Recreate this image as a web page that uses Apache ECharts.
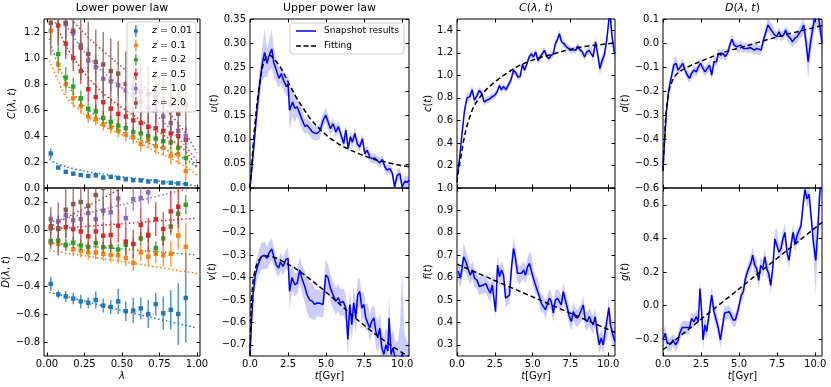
<!DOCTYPE html>
<html>
<head>
<meta charset="utf-8">
<script src="https://cdn.jsdelivr.net/npm/echarts@6/dist/echarts.min.js"></script>
<style>
  html, body { margin: 0; padding: 0; background: #fff; }
  #chart { width: 831px; height: 387px; }
</style>
</head>
<body>
<div id="chart"></div>
<script>
// ---------- data ----------
var LAM = [0.025,0.075,0.125,0.175,0.225,0.275,0.325,0.375,0.425,0.475,0.525,0.575,0.625,0.675,0.725,0.775,0.825,0.875,0.925];
var zNames = ['z = 0.01','z = 0.1','z = 0.2','z = 0.5','z = 1.0','z = 2.0'];
var zColors = ['#1f77b4','#ff7f0e','#2ca02c','#d62728','#9467bd','#8c564b'];

// lower power law, C(lambda,t), one row per z
var lowerC = [
  [0.265,0.157,0.124,0.11,0.10,0.093,0.098,0.08,0.085,0.077,0.067,0.06,0.058,0.05,0.052,0.042,0.04,0.035,0.03],
  [1.21,0.95,0.80,0.69,0.63,0.55,0.53,0.49,0.47,0.44,0.41,0.39,0.34,0.37,0.32,0.31,0.25,0.26,0.13],
  [1.40,1.03,0.85,0.78,0.69,0.61,0.59,0.54,0.51,0.48,0.46,0.43,0.42,0.40,0.38,0.36,0.35,0.31,0.23],
  [1.45,1.25,1.11,1.00,0.90,0.76,0.70,0.66,0.61,0.57,0.55,0.52,0.50,0.47,0.46,0.44,0.42,0.40,0.37],
  [1.50,1.42,1.26,1.19,1.10,0.98,0.93,0.84,0.82,0.79,0.75,0.72,0.66,0.62,0.60,0.55,0.50,0.44,0.40],
  [1.27,1.35,1.27,1.21,1.08,1.03,0.97,0.95,0.90,0.88,0.80,0.77,0.74,0.72,0.70,0.66,0.64,0.57,0.64]
];
var lowerCErr = [
  [0.04,0.012,0.012,0.01,0.01,0.01,0.02,0.01,0.01,0.01,0.01,0.01,0.01,0.01,0.01,0.01,0.01,0.01,0.015],
  [0.08,0.07,0.07,0.07,0.06,0.05,0.05,0.05,0.05,0.05,0.05,0.05,0.06,0.06,0.06,0.06,0.07,0.08,0.08],
  [0.10,0.10,0.08,0.07,0.06,0.05,0.05,0.05,0.05,0.05,0.04,0.04,0.05,0.05,0.05,0.05,0.05,0.05,0.05],
  [0.15,0.12,0.12,0.10,0.10,0.10,0.10,0.10,0.08,0.08,0.08,0.08,0.08,0.08,0.08,0.08,0.09,0.10,0.10],
  [0.15,0.15,0.10,0.10,0.10,0.10,0.10,0.08,0.08,0.08,0.08,0.08,0.08,0.08,0.07,0.07,0.07,0.07,0.07],
  [0.25,0.25,0.25,0.25,0.25,0.25,0.25,0.25,0.25,0.25,0.25,0.22,0.22,0.22,0.20,0.20,0.20,0.20,0.20]
];
var lowerCFit = [
  [[0.015,0.22],[0.05,0.195],[0.13,0.162],[0.25,0.13],[0.35,0.11],[0.46,0.092],[0.575,0.077],[0.7,0.06],[0.8,0.046],[0.9,0.032],[1.0,0.015]],
  [[0.015,0.98],[0.072,0.83],[0.128,0.70],[0.24,0.575],[0.35,0.49],[0.46,0.43],[0.575,0.37],[0.69,0.30],[0.8,0.24],[0.91,0.175],[1.0,0.10]],
  [[0.015,1.15],[0.038,1.06],[0.128,0.81],[0.24,0.64],[0.35,0.535],[0.46,0.46],[0.575,0.39],[0.69,0.34],[0.8,0.29],[0.91,0.23],[1.0,0.16]],
  [[0.015,1.42],[0.049,1.295],[0.128,1.09],[0.24,0.90],[0.35,0.755],[0.46,0.65],[0.575,0.56],[0.69,0.47],[0.8,0.39],[0.91,0.30],[1.0,0.16]],
  [[0.06,1.42],[0.105,1.295],[0.24,1.06],[0.35,0.92],[0.46,0.81],[0.575,0.70],[0.69,0.60],[0.8,0.48],[0.91,0.34],[1.0,0.21]],
  [[0.1,1.36],[0.15,1.31],[0.3,1.13],[0.45,0.98],[0.6,0.83],[0.75,0.66],[0.9,0.46],[1.0,0.27]]
];

// lower power law, D(lambda,t)
var lowerD = [
  [-0.385,-0.46,-0.475,-0.49,-0.51,-0.52,-0.50,-0.54,-0.55,-0.51,-0.58,-0.575,-0.56,-0.60,-0.53,-0.595,-0.57,-0.60,-0.485],
  [-0.09,-0.10,-0.11,-0.137,-0.147,-0.16,-0.16,-0.17,-0.178,-0.18,-0.20,-0.235,-0.16,-0.19,-0.17,-0.18,-0.17,-0.04,-0.12],
  [-0.08,-0.075,-0.105,-0.09,-0.11,-0.12,-0.093,-0.123,-0.12,-0.14,-0.105,-0.10,-0.06,-0.04,-0.13,-0.06,0.025,0.116,0.18],
  [0.026,0.012,0.02,0.007,-0.01,-0.045,-0.01,-0.04,-0.036,0.03,-0.083,-0.10,0.036,-0.035,0.078,0.007,0.133,0.166,null],
  [0.078,0.062,0.107,0.07,0.078,0.12,0.078,0.138,0.126,0.225,0.085,0.22,0.228,0.268,null,null,null,null,null],
  [0.012,0.007,0.145,0.185,0.20,0.173,0.25,0.30,0.33,0.36,null,null,null,null,null,null,null,null,null]
];
var lowerDErr = [
  [0.05,0.03,0.04,0.04,0.05,0.04,0.06,0.05,0.05,0.09,0.07,0.09,0.08,0.10,0.08,0.12,0.14,0.22,0.32],
  [0.03,0.04,0.04,0.05,0.05,0.05,0.05,0.05,0.05,0.06,0.06,0.06,0.06,0.07,0.07,0.08,0.09,0.10,0.17],
  [0.03,0.04,0.04,0.04,0.04,0.04,0.04,0.04,0.04,0.04,0.04,0.05,0.05,0.05,0.05,0.05,0.06,0.07,0.07],
  [0.06,0.07,0.08,0.08,0.08,0.10,0.10,0.10,0.10,0.12,0.10,0.10,0.12,0.12,0.12,0.12,0.15,0.15,0.20],
  [0.03,0.04,0.05,0.06,0.06,0.06,0.06,0.07,0.07,0.08,0.08,0.08,0.08,0.08,0.08,0.08,0.08,0.08,0.08],
  [0.15,0.19,0.20,0.20,0.20,0.20,0.20,0.20,0.20,0.20,0.20,0.20,0.20,0.20,0.20,0.20,0.20,0.20,0.20]
];
var lowerDFit = [
  [[0.015,-0.444],[0.5,-0.575],[1.0,-0.70]],
  [[0.015,-0.147],[0.5,-0.225],[1.0,-0.31]],
  [[0.015,-0.093],[0.5,-0.135],[1.0,-0.178]],
  [[0.015,0.007],[0.5,0.045],[1.0,0.085]],
  [[0.015,0.055],[0.5,0.18],[1.0,0.31]],
  [[0.015,0.02],[0.5,0.30],[1.0,0.58]]
];

// upper power law and the time fits: [t, value, half band width]
var uSnap = [[0,0.0,0.005],[0.15,0.05,0.015],[0.42,0.147,0.025],[0.64,0.217,0.03],[0.81,0.258,0.035],[0.96,0.281,0.05],[1.12,0.258,0.03],[1.23,0.272,0.03],[1.43,0.288,0.04],[1.56,0.26,0.03],[1.73,0.244,0.025],[1.9,0.227,0.02],[2.06,0.237,0.02],[2.2,0.223,0.02],[2.4,0.21,0.02],[2.5,0.216,0.025],[2.6,0.161,0.04],[2.8,0.178,0.03],[2.94,0.165,0.03],[3.1,0.168,0.02],[3.27,0.154,0.02],[3.44,0.14,0.02],[3.6,0.128,0.015],[3.75,0.13,0.015],[3.93,0.123,0.015],[4.1,0.116,0.015],[4.25,0.114,0.015],[4.4,0.113,0.015],[4.6,0.118,0.015],[4.8,0.14,0.015],[4.98,0.151,0.015],[5.13,0.137,0.015],[5.28,0.123,0.012],[5.46,0.133,0.012],[5.64,0.116,0.012],[5.81,0.127,0.012],[5.99,0.109,0.012],[6.16,0.092,0.012],[6.3,0.12,0.012],[6.45,0.082,0.012],[6.6,0.106,0.012],[6.73,0.095,0.012],[6.89,0.113,0.012],[7.04,0.092,0.012],[7.2,0.085,0.01],[7.39,0.102,0.01],[7.54,0.071,0.01],[7.7,0.078,0.01],[7.87,0.064,0.01],[8.03,0.061,0.01],[8.2,0.062,0.01],[8.36,0.057,0.01],[8.53,0.052,0.01],[8.7,0.059,0.01],[8.86,0.044,0.01],[9.0,0.037,0.01],[9.19,0.04,0.01],[9.36,0.03,0.01],[9.5,0.002,0.012],[9.67,0.026,0.012],[9.85,0.03,0.012],[10.0,0.002,0.012],[10.18,0.014,0.012],[10.33,0.012,0.012],[10.45,0.016,0.012]];
var uFit = [[0,0],[0.1,0.04],[0.2,0.085],[0.35,0.14],[0.5,0.185],[0.7,0.23],[0.9,0.26],[1.1,0.273],[1.3,0.275],[1.5,0.27],[2.0,0.25],[2.5,0.22],[3.0,0.19],[3.5,0.165],[4.0,0.142],[4.5,0.125],[5.0,0.11],[5.5,0.098],[6.0,0.088],[7.0,0.073],[8.0,0.061],[9.0,0.053],[10.0,0.046],[10.45,0.044]];

var vSnap = [[0,-0.745,0.01],[0.09,-0.61,0.03],[0.2,-0.477,0.04],[0.35,-0.388,0.05],[0.53,-0.343,0.05],[0.75,-0.306,0.06],[0.96,-0.30,0.06],[1.12,-0.314,0.05],[1.25,-0.29,0.05],[1.43,-0.272,0.05],[1.56,-0.306,0.04],[1.73,-0.343,0.04],[1.88,-0.358,0.04],[2.0,-0.33,0.04],[2.17,-0.35,0.04],[2.35,-0.32,0.04],[2.5,-0.314,0.05],[2.6,-0.462,0.08],[2.76,-0.40,0.06],[2.94,-0.432,0.05],[3.1,-0.425,0.05],[3.27,-0.366,0.06],[3.44,-0.41,0.06],[3.6,-0.44,0.07],[3.75,-0.477,0.08],[3.93,-0.50,0.08],[4.1,-0.506,0.08],[4.25,-0.52,0.07],[4.4,-0.513,0.06],[4.6,-0.515,0.06],[4.8,-0.52,0.06],[4.98,-0.388,0.07],[5.13,-0.40,0.06],[5.28,-0.447,0.06],[5.46,-0.477,0.06],[5.64,-0.506,0.06],[5.8,-0.49,0.06],[5.94,-0.513,0.06],[6.12,-0.506,0.06],[6.3,-0.536,0.06],[6.43,-0.676,0.08],[6.56,-0.52,0.07],[6.69,-0.61,0.07],[6.82,-0.513,0.07],[6.95,-0.58,0.07],[7.08,-0.477,0.07],[7.21,-0.462,0.06],[7.35,-0.536,0.06],[7.48,-0.52,0.06],[7.61,-0.58,0.06],[7.74,-0.573,0.06],[7.87,-0.625,0.06],[8.0,-0.595,0.06],[8.14,-0.58,0.06],[8.27,-0.64,0.07],[8.4,-0.67,0.07],[8.53,-0.625,0.07],[8.66,-0.713,0.07],[8.8,-0.743,0.08],[8.93,-0.70,0.08],[9.06,-0.728,0.08],[9.14,-0.58,0.10],[9.27,-0.743,0.08],[9.4,-0.713,0.08],[9.53,-0.76,0.08],[9.7,-0.79,0.10],[9.85,-0.77,0.15],[10.0,-0.74,0.36],[10.15,-0.80,0.15],[10.3,-0.78,0.10],[10.45,-0.80,0.10]];
var vFit = [[0,-0.75],[0.05,-0.6],[0.1,-0.5],[0.2,-0.42],[0.3,-0.375],[0.45,-0.34],[0.6,-0.32],[0.8,-0.307],[1.0,-0.303],[1.3,-0.305],[1.6,-0.31],[2.0,-0.322],[3.0,-0.36],[4.0,-0.41],[5.0,-0.465],[6.0,-0.525],[7.0,-0.585],[8.0,-0.64],[9.0,-0.69],[10.0,-0.735],[10.45,-0.752]];

var cSnap = [[0,0.098,0.01],[0.18,0.275,0.02],[0.33,0.48,0.02],[0.5,0.69,0.03],[0.66,0.80,0.04],[0.84,0.81,0.04],[1.0,0.873,0.04],[1.15,0.78,0.03],[1.32,0.82,0.03],[1.48,0.867,0.03],[1.64,0.837,0.03],[1.8,0.764,0.03],[1.98,0.78,0.03],[2.15,0.79,0.03],[2.31,0.81,0.03],[2.47,0.82,0.03],[2.64,0.85,0.03],[2.8,0.91,0.03],[2.94,0.873,0.03],[3.08,0.90,0.03],[3.24,0.873,0.03],[3.38,0.91,0.03],[3.56,0.956,0.03],[3.74,1.045,0.03],[3.9,1.02,0.03],[4.02,0.985,0.03],[4.18,0.99,0.03],[4.33,1.10,0.03],[4.46,1.045,0.03],[4.62,1.10,0.03],[4.77,1.163,0.03],[4.92,1.19,0.03],[5.05,1.163,0.03],[5.2,1.207,0.03],[5.36,1.13,0.03],[5.5,1.163,0.03],[5.64,1.19,0.03],[5.78,1.222,0.03],[5.93,1.17,0.03],[6.08,1.148,0.03],[6.22,1.178,0.03],[6.37,1.19,0.03],[6.5,1.28,0.03],[6.64,1.317,0.03],[6.77,1.37,0.04],[6.92,1.296,0.03],[7.08,1.28,0.03],[7.25,1.25,0.03],[7.4,1.237,0.03],[7.56,1.222,0.03],[7.7,1.228,0.03],[7.85,1.222,0.03],[7.98,1.26,0.03],[8.13,1.228,0.03],[8.29,1.207,0.03],[8.44,1.163,0.03],[8.57,1.207,0.03],[8.73,1.222,0.03],[8.86,1.228,0.03],[9.0,1.163,0.04],[9.16,1.296,0.04],[9.3,1.19,0.05],[9.45,1.06,0.06],[9.6,1.133,0.05],[9.74,1.178,0.05],[9.9,1.31,0.06],[10.02,1.46,0.07],[10.1,1.58,0.08],[10.25,1.35,0.06],[10.4,1.207,0.05],[10.46,1.19,0.05]];
var cFit = [[0,0.05],[0.1,0.16],[0.22,0.245],[0.44,0.42],[0.6,0.52],[0.77,0.60],[1.1,0.72],[1.54,0.81],[1.98,0.88],[2.64,0.956],[3.3,1.02],[4.18,1.09],[5.27,1.148],[6.37,1.19],[7.47,1.23],[8.57,1.258],[9.67,1.275],[10.46,1.29]];

var fSnap = [[0.07,0.629,0.04],[0.22,0.597,0.04],[0.33,0.64,0.05],[0.44,0.693,0.06],[0.59,0.67,0.05],[0.73,0.64,0.05],[0.88,0.611,0.04],[1.03,0.634,0.04],[1.16,0.597,0.04],[1.32,0.589,0.04],[1.47,0.56,0.04],[1.6,0.567,0.04],[1.76,0.567,0.04],[1.91,0.574,0.04],[2.04,0.552,0.04],[2.2,0.53,0.04],[2.33,0.567,0.04],[2.46,0.574,0.04],[2.55,0.448,0.03],[2.68,0.656,0.05],[2.81,0.604,0.04],[2.94,0.634,0.04],[3.08,0.611,0.04],[3.21,0.508,0.04],[3.34,0.515,0.04],[3.47,0.522,0.04],[3.6,0.641,0.05],[3.74,0.73,0.05],[3.87,0.686,0.05],[4.0,0.619,0.04],[4.13,0.611,0.04],[4.26,0.619,0.04],[4.4,0.634,0.04],[4.53,0.611,0.04],[4.66,0.648,0.04],[4.79,0.663,0.05],[4.92,0.656,0.05],[5.05,0.597,0.04],[5.19,0.567,0.04],[5.32,0.56,0.04],[5.45,0.515,0.04],[5.58,0.485,0.04],[5.71,0.485,0.04],[5.85,0.456,0.04],[5.98,0.485,0.04],[6.11,0.508,0.04],[6.24,0.493,0.04],[6.37,0.441,0.04],[6.5,0.50,0.04],[6.64,0.508,0.04],[6.77,0.50,0.04],[6.9,0.478,0.04],[7.03,0.537,0.04],[7.16,0.50,0.04],[7.3,0.463,0.04],[7.43,0.426,0.04],[7.56,0.404,0.04],[7.69,0.448,0.04],[7.82,0.426,0.04],[7.96,0.419,0.04],[8.09,0.434,0.04],[8.22,0.441,0.04],[8.35,0.478,0.04],[8.48,0.411,0.04],[8.62,0.404,0.04],[8.75,0.426,0.04],[8.88,0.404,0.04],[9.01,0.389,0.04],[9.14,0.426,0.04],[9.27,0.359,0.04],[9.41,0.30,0.04],[9.54,0.33,0.04],[9.67,0.30,0.04],[9.8,0.359,0.04],[9.93,0.359,0.04],[10.04,0.466,0.05],[10.15,0.389,0.05],[10.28,0.352,0.05],[10.44,0.315,0.05]];
var fFit = [[0,0.66],[5.27,0.506],[10.46,0.355]];

var dSnap = [[0,-0.513,0.01],[0.11,-0.40,0.02],[0.22,-0.29,0.02],[0.375,-0.195,0.02],[0.55,-0.14,0.02],[0.71,-0.09,0.03],[0.86,-0.084,0.03],[1.0,-0.112,0.02],[1.15,-0.098,0.02],[1.3,-0.084,0.02],[1.43,-0.109,0.02],[1.59,-0.132,0.02],[1.74,-0.146,0.02],[1.88,-0.125,0.02],[2.03,-0.112,0.02],[2.19,-0.119,0.02],[2.32,-0.098,0.02],[2.47,-0.084,0.02],[2.63,-0.105,0.02],[2.76,-0.119,0.02],[2.91,-0.105,0.02],[3.06,-0.091,0.02],[3.2,-0.132,0.02],[3.35,-0.077,0.02],[3.51,-0.077,0.02],[3.64,-0.042,0.02],[3.8,-0.05,0.02],[3.95,-0.042,0.02],[4.08,-0.056,0.02],[4.24,-0.042,0.02],[4.39,-0.008,0.02],[4.53,0.016,0.02],[4.68,-0.008,0.02],[4.84,-0.015,0.02],[4.97,-0.022,0.02],[5.12,-0.008,0.02],[5.28,-0.022,0.02],[5.41,-0.015,0.02],[5.56,-0.022,0.02],[5.72,-0.018,0.02],[5.85,-0.022,0.02],[6.0,-0.029,0.02],[6.16,-0.022,0.02],[6.29,-0.029,0.02],[6.45,-0.029,0.02],[6.6,0.013,0.02],[6.73,0.04,0.025],[6.89,0.075,0.03],[7.04,0.061,0.03],[7.17,0.054,0.025],[7.33,0.034,0.02],[7.48,0.027,0.02],[7.62,0.047,0.02],[7.77,0.027,0.02],[7.93,0.034,0.02],[8.06,0.054,0.02],[8.21,0.03,0.025],[8.37,0.02,0.025],[8.5,0.006,0.025],[8.66,0.02,0.025],[8.81,0.027,0.025],[8.94,0.04,0.025],[9.1,0.054,0.03],[9.25,0.075,0.03],[9.38,0.013,0.04],[9.54,-0.077,0.07],[9.69,0.0,0.05],[9.82,0.054,0.05],[9.98,0.11,0.06],[10.1,0.13,0.06],[10.2,0.12,0.06],[10.35,0.05,0.05],[10.46,0.0,0.05]];
var dFit = [[0,-0.53],[0.05,-0.46],[0.1,-0.40],[0.2,-0.29],[0.35,-0.215],[0.5,-0.175],[0.75,-0.14],[1.0,-0.122],[1.5,-0.103],[2.0,-0.088],[3.0,-0.062],[4.0,-0.038],[5.0,-0.02],[6.0,-0.002],[7.0,0.017],[8.0,0.034],[9.0,0.05],[10.0,0.066],[10.46,0.073]];

var gSnap = [[0,-0.204,0.06],[0.15,-0.165,0.04],[0.27,-0.224,0.04],[0.38,-0.233,0.04],[0.53,-0.224,0.04],[0.66,-0.204,0.04],[0.82,-0.233,0.04],[0.97,-0.214,0.04],[1.1,-0.165,0.04],[1.26,-0.131,0.04],[1.41,-0.131,0.04],[1.59,-0.131,0.04],[1.74,-0.131,0.04],[1.88,-0.076,0.04],[2.03,-0.096,0.04],[2.19,-0.066,0.04],[2.32,-0.096,0.04],[2.43,0.101,0.05],[2.54,-0.036,0.05],[2.63,-0.204,0.06],[2.76,-0.115,0.05],[2.87,-0.155,0.05],[3.03,-0.05,0.05],[3.2,0.062,0.05],[3.35,-0.036,0.05],[3.48,-0.08,0.05],[3.64,-0.135,0.05],[3.77,-0.204,0.05],[3.91,-0.125,0.05],[4.04,-0.046,0.05],[4.17,-0.046,0.04],[4.35,-0.036,0.04],[4.48,-0.06,0.04],[4.61,-0.086,0.04],[4.75,-0.086,0.04],[4.88,-0.046,0.04],[5.01,0.003,0.04],[5.14,0.062,0.04],[5.28,0.082,0.04],[5.41,0.16,0.04],[5.54,0.2,0.04],[5.67,0.23,0.04],[5.8,0.26,0.05],[5.89,0.30,0.05],[6.03,0.24,0.05],[6.16,0.22,0.05],[6.29,0.15,0.05],[6.42,0.24,0.05],[6.56,0.22,0.05],[6.69,0.29,0.05],[6.82,0.22,0.05],[6.95,0.19,0.05],[7.08,0.12,0.05],[7.21,0.22,0.05],[7.35,0.397,0.05],[7.48,0.407,0.05],[7.62,0.318,0.05],[7.75,0.338,0.05],[7.88,0.397,0.05],[8.01,0.436,0.05],[8.15,0.318,0.05],[8.28,0.269,0.05],[8.41,0.358,0.05],[8.55,0.436,0.05],[8.68,0.367,0.05],[8.81,0.417,0.05],[8.94,0.407,0.05],[9.07,0.476,0.05],[9.2,0.594,0.05],[9.33,0.69,0.05],[9.47,0.634,0.05],[9.6,0.663,0.05],[9.74,0.525,0.06],[9.87,0.387,0.08],[10.04,0.269,0.2],[10.17,0.436,0.1],[10.3,0.673,0.08],[10.46,0.75,0.08]];
var gFit = [[0,-0.263],[5.0,0.10],[10.46,0.496]];

// tick positions
var lamTicks = [0, 0.25, 0.5, 0.75, 1.0];
var tTicks = [0, 2.5, 5, 7.5, 10];

// ---------- layout ----------
var FONT = 'DejaVu Sans';
var colLeft = [44, 250, 457, 663], colWidth = [156, 159, 158, 159];
var rowTop = [19, 188], rowHeight = [169, 168];
var it = { fontStyle: 'italic', fontFamily: FONT, fontSize: 10, color: '#000' };

var panels = [
  {c:0, r:0, xr:[-0.02,1.02], xt:lamTicks, xd:2, yr:[0,1.3], yt:[0,0.2,0.4,0.6,0.8,1.0,1.2], yl:[0,0.2,0.4,0.6,0.8,1.0,1.2], yd:1, yname:'{i|C}({i|λ}, {i|t})', gap:27},
  {c:0, r:1, xr:[-0.02,1.02], xt:lamTicks, xd:2, yr:[-0.9,0.3], yt:[-0.8,-0.6,-0.4,-0.2,0,0.2], yl:[-0.8,-0.6,-0.4,-0.2,0,0.2], yd:1, yname:'{i|D}({i|λ}, {i|t})', gap:30, xname:'{i|λ}'},
  {c:1, r:0, xr:[0,10.45], xt:tTicks, xd:1, yr:[0,0.35], yt:[0,0.05,0.1,0.15,0.2,0.25,0.3,0.35], yl:[0.05,0.1,0.15,0.2,0.25,0.3,0.35], yd:2, yname:'{i|u}({i|t})', gap:29},
  {c:1, r:1, xr:[0,10.45], xt:tTicks, xd:1, yr:[-0.75,0], yt:[-0.7,-0.6,-0.5,-0.4,-0.3,-0.2,-0.1,0], yl:[-0.7,-0.6,-0.5,-0.4,-0.3,-0.2,-0.1,0], yd:1, yname:'{i|v}({i|t})', gap:28, xname:'{i|t}[Gyr]'},
  {c:2, r:0, xr:[0,10.45], xt:tTicks, xd:1, yr:[0,1.5], yt:[0,0.2,0.4,0.6,0.8,1.0,1.2,1.4], yl:[0.2,0.4,0.6,0.8,1.0,1.2,1.4], yd:1, yname:'{i|c}({i|t})', gap:20},
  {c:2, r:1, xr:[0,10.45], xt:tTicks, xd:1, yr:[0.25,1.0], yt:[0.3,0.4,0.5,0.6,0.7,0.8,0.9,1.0], yl:[0.3,0.4,0.5,0.6,0.7,0.8,0.9,1.0], yd:1, yname:'{i|f}({i|t})', gap:20, xname:'{i|t}[Gyr]'},
  {c:3, r:0, xr:[0,10.45], xt:tTicks, xd:1, yr:[-0.6,0.1], yt:[-0.6,-0.5,-0.4,-0.3,-0.2,-0.1,0,0.1], yl:[-0.6,-0.5,-0.4,-0.3,-0.2,-0.1,0,0.1], yd:1, yname:'{i|d}({i|t})', gap:27},
  {c:3, r:1, xr:[0,10.45], xt:tTicks, xd:1, yr:[-0.3,0.7], yt:[-0.2,0,0.2,0.4,0.6], yl:[-0.2,0,0.2,0.4,0.6], yd:1, yname:'{i|g}({i|t})', gap:27, xname:'{i|t}[Gyr]'}
];

function fmt(d) {
  return function (v) {
    var s = Math.abs(v).toFixed(d);
    return (v < -1e-9 ? '\u2212' : '') + s;
  };
}

var grids = [], xAxes = [], yAxes = [], series = [];
var tick = { inside: true, length: 3.5, lineStyle: { color: '#000', width: 1 } };
var lab = { fontFamily: FONT, fontSize: 10, color: '#000' };

panels.forEach(function (p, k) {
  grids.push({ left: colLeft[p.c], top: rowTop[p.r], width: colWidth[p.c], height: rowHeight[p.r],
    show: true, borderColor: '#000', borderWidth: 1, backgroundColor: 'transparent' });
  ['bottom', 'top'].forEach(function (pos, j) {
    var ax = { type: 'value', gridIndex: k, position: pos, min: p.xr[0], max: p.xr[1],
      axisLine: { show: false, onZero: false }, splitLine: { show: false },
      axisTick: Object.assign({ customValues: p.xt }, tick),
      axisLabel: Object.assign({ show: j === 0 && p.r === 1, customValues: p.xt, formatter: fmt(p.xd), margin: 3 }, lab) };
    if (j === 0 && p.xname) {
      ax.name = p.xname; ax.nameLocation = 'middle'; ax.nameGap = 15;
      ax.nameTextStyle = { fontFamily: FONT, fontSize: 10, color: '#000', rich: { i: it } };
    }
    xAxes.push(ax);
  });
  ['left', 'right'].forEach(function (pos, j) {
    var ax = { type: 'value', gridIndex: k, position: pos, min: p.yr[0], max: p.yr[1],
      axisLine: { show: false, onZero: false }, splitLine: { show: false },
      axisTick: Object.assign({ customValues: p.yt }, tick),
      axisLabel: Object.assign({ show: j === 0, customValues: p.yl, formatter: fmt(p.yd), margin: 4 }, lab) };
    if (j === 0) {
      ax.name = p.yname; ax.nameLocation = 'middle'; ax.nameGap = p.gap; ax.nameRotate = 90;
      ax.nameTextStyle = { fontFamily: FONT, fontSize: 10, color: '#000', rich: { i: it } };
    }
    yAxes.push(ax);
  });
});

function errRender(color) {
  return function (params, api) {
    var x = api.value(0), y = api.value(1), e = api.value(2);
    var lo = api.coord([x, y - e]), hi = api.coord([x, y + e]), c = api.coord([x, y]);
    return { type: 'group', children: [
      { type: 'line', shape: { x1: lo[0], y1: lo[1], x2: hi[0], y2: hi[1] }, style: { stroke: color, lineWidth: 1.5, opacity: 0.75 } },
      { type: 'rect', shape: { x: c[0] - 2.2, y: c[1] - 2.2, width: 4.4, height: 4.4 }, style: { fill: color } }
    ] };
  };
}

function addLower(k, vals, errs, fits) {
  for (var z = 0; z < 6; z++) {
    var pts = [];
    LAM.forEach(function (l, i) { if (vals[z][i] !== null) pts.push([l, vals[z][i], errs[z][i]]); });
    series.push({ type: 'custom', name: zNames[z], xAxisIndex: 2 * k, yAxisIndex: 2 * k, clip: true, silent: true,
      renderItem: errRender(zColors[z]), data: pts, z: 3 });
    series.push({ type: 'line', name: 'fit' + z, xAxisIndex: 2 * k, yAxisIndex: 2 * k, data: fits[z], symbol: 'none',
      smooth: 0.3, silent: true, lineStyle: { color: zColors[z], width: 1.5, type: [1.5, 2.5] }, z: 2 });
  }
}
addLower(0, lowerC, lowerCErr, lowerCFit);
addLower(1, lowerD, lowerDErr, lowerDFit);

function addTime(k, snap, fit) {
  series.push({ type: 'custom', name: 'band' + k, xAxisIndex: 2 * k, yAxisIndex: 2 * k, clip: true, silent: true,
    data: [[snap[0][0], snap[0][1]]],
    renderItem: function (params, api) {
      var up = snap.map(function (d) { return api.coord([d[0], d[1] + d[2]]); });
      var lo = snap.map(function (d) { return api.coord([d[0], d[1] - d[2]]); }).reverse();
      return { type: 'polygon', shape: { points: up.concat(lo) }, style: { fill: 'rgba(0,0,255,0.2)' } };
    }, z: 1 });
  series.push({ type: 'line', name: 'Snapshot results', xAxisIndex: 2 * k, yAxisIndex: 2 * k, symbol: 'none', silent: true,
    data: snap.map(function (d) { return [d[0], d[1]]; }), lineStyle: { color: '#0000ff', width: 1.5 }, itemStyle: { color: '#0000ff' }, z: 2 });
  series.push({ type: 'line', name: 'Fitting', xAxisIndex: 2 * k, yAxisIndex: 2 * k, symbol: 'none', silent: true, smooth: 0.35,
    data: fit, lineStyle: { color: '#000', width: 1.5, type: [5, 3] }, itemStyle: { color: '#000' }, z: 3 });
}
addTime(2, uSnap, uFit);
addTime(3, vSnap, vFit);
addTime(4, cSnap, cFit);
addTime(5, fSnap, fFit);
addTime(6, dSnap, dFit);
addTime(7, gSnap, gFit);

var titles = [
  { text: 'Lower power law', c: 0 },
  { text: 'Upper power law', c: 1 },
  { text: '{i|C}({i|λ}, {i|t})', c: 2 },
  { text: '{i|D}({i|λ}, {i|t})', c: 3 }
].map(function (t) {
  return { text: t.text, left: colLeft[t.c] + colWidth[t.c] / 2, top: 3, textAlign: 'center', padding: 0,
    textStyle: { fontFamily: FONT, fontSize: 11, fontWeight: 'normal', color: '#000',
      rich: { i: { fontStyle: 'italic', fontFamily: FONT, fontSize: 11, color: '#000' } } } };
});

// legend glyphs: errorbar mark, solid line, dashed line (tiny corner dots pin the box size)
var ebIcon = 'path://M4.3,0 H5.7 V5 H7.2 V9 H5.7 V14 H4.3 V9 H2.8 V5 H4.3 Z';
var pin = 'M0,0 h0.01 v0.01 h-0.01 Z M19.99,9.99 h0.01 v0.01 h-0.01 Z ';
var solidIcon = 'path://' + pin + 'M0,4.25 H20 V5.75 H0 Z';
var dashIcon = 'path://' + pin + 'M0,4.25 H5 V5.75 H0 Z M7.5,4.25 H12.5 V5.75 H7.5 Z M15,4.25 H20 V5.75 H15 Z';

var option = {
  animation: false,
  textStyle: { fontFamily: FONT },
  title: titles,
  grid: grids,
  xAxis: xAxes,
  yAxis: yAxes,
  legend: [
    { left: 127, top: 22, orient: 'vertical', selectedMode: false, itemWidth: 10, itemHeight: 12, itemGap: 2.4,
      padding: [3, 4, 3, 7], backgroundColor: 'rgba(255,255,255,0.8)', borderColor: '#cccccc', borderWidth: 1, borderRadius: 3,
      data: zNames.map(function (n, z) { return { name: n, icon: ebIcon, itemStyle: { color: zColors[z] } }; }),
      formatter: function (n) { return '{i|z} = ' + n.split('= ')[1]; },
      textStyle: { fontFamily: FONT, fontSize: 9.5, color: '#000', padding: [0, 0, 0, 6],
        rich: { i: { fontStyle: 'italic', fontFamily: FONT, fontSize: 9.5, color: '#000' } } } },
    { left: 290, top: 23, orient: 'vertical', selectedMode: false, itemWidth: 20, itemHeight: 10, itemGap: 5,
      padding: [3, 5, 3, 6], backgroundColor: 'rgba(255,255,255,0.8)', borderColor: '#cccccc', borderWidth: 1, borderRadius: 3,
      data: [
        { name: 'Snapshot results', icon: solidIcon, itemStyle: { color: '#0000ff' } },
        { name: 'Fitting', icon: dashIcon, itemStyle: { color: '#000' } }
      ],
      textStyle: { fontFamily: FONT, fontSize: 9, color: '#000', padding: [0, 0, 0, 3] } }
  ],
  series: series
};

var chart = echarts.init(document.getElementById('chart'), null, { renderer: 'canvas' });
chart.setOption(option);
</script>
</body>
</html>
